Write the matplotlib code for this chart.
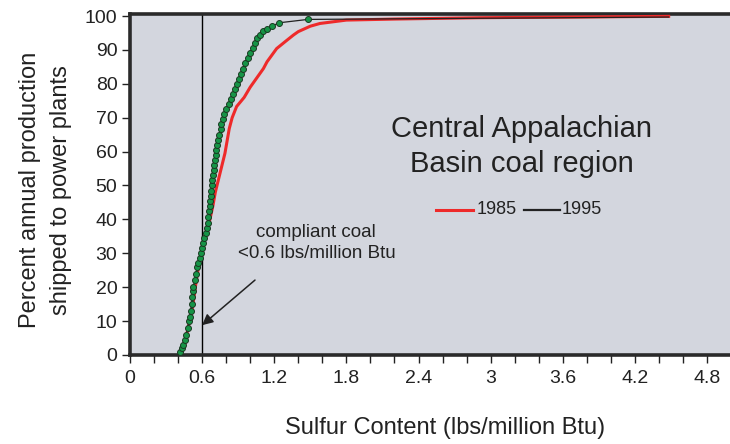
import numpy as np
import matplotlib
matplotlib.use("Agg")
import matplotlib.pyplot as plt
from matplotlib.ticker import MultipleLocator

plt.rcParams['font.family'] = ['Liberation Sans', 'DejaVu Sans']

# 1995 cumulative curve (green dots + black line)
x1995 = [0.42, 0.43, 0.44, 0.455, 0.468, 0.48, 0.49, 0.50, 0.505, 0.512,
         0.518, 0.524, 0.527, 0.537, 0.548, 0.56, 0.57, 0.58, 0.59, 0.60,
         0.61, 0.62, 0.632, 0.64, 0.645, 0.65, 0.658, 0.663, 0.667, 0.672,
         0.677, 0.682, 0.686, 0.69, 0.695, 0.70, 0.706, 0.712, 0.716, 0.724,
         0.732, 0.742, 0.755, 0.76, 0.77, 0.785, 0.80, 0.82, 0.838, 0.855,
         0.872, 0.89, 0.905, 0.925, 0.942, 0.96, 0.98, 1.0, 1.02, 1.04,
         1.06, 1.08, 1.11, 1.14, 1.18, 1.24, 1.48, 4.48]
y1995 = [1, 2, 3, 4.4, 6, 8, 10, 11.3, 13, 15,
         17, 19, 20, 22, 24, 26, 27, 28.5, 30, 31.5,
         33, 34.5, 36, 37.5, 39, 40.8, 42.5, 44, 45.5, 47,
         48.5, 50, 51.5, 53, 54.5, 56, 57.5, 59, 60.5, 62,
         63.5, 65, 66.8, 68, 69.5, 71, 72.5, 74, 75.5, 77,
         78.5, 80, 81.5, 83, 84.5, 86, 87.5, 89, 90.5, 92,
         93.5, 94.5, 95.5, 96.3, 97, 98, 99, 99.7]

# 1985 cumulative curve (red line)
x1985 = [0.43, 0.46, 0.49, 0.52, 0.54, 0.56, 0.59, 0.62, 0.645, 0.665,
         0.69, 0.71, 0.735, 0.79, 0.826, 0.85, 0.887, 0.95, 1.0, 1.08,
         1.11, 1.14, 1.22, 1.30, 1.36, 1.40, 1.50, 1.58, 1.80, 2.2,
         2.91, 4.48]
y1985 = [0.5, 4, 9, 14, 19, 24, 29, 34, 37.5, 40,
         44, 48, 51.6, 59.5, 66.8, 70, 73.3, 76, 79, 83,
         84.5, 86.5, 90.4, 92.7, 94.4, 95.4, 97, 97.8, 98.8, 99.1,
         99.5, 99.9]

compliant_limit = 0.6

fig = plt.figure(figsize=(7.3, 4.44), dpi=100)
ax = fig.add_axes([0.178, 0.2005, 0.822, 0.768])
ax.set_facecolor('#d3d6de')

ax.plot(x1985, y1985, color='#ee2a2a', linewidth=2.2, zorder=3)
ax.plot(x1995, y1995, color='#222222', linewidth=0.9, zorder=4)
ax.plot(x1995[:-1], y1995[:-1], linestyle='none', marker='o', markersize=4.3,
        markerfacecolor='#169447', markeredgecolor='#1b3a22', markeredgewidth=0.7,
        zorder=5)
ax.axvline(compliant_limit, color='black', linewidth=1.0, zorder=2)

ax.set_xlim(0, 4.99)
ax.set_ylim(0, 100.6)
ax.xaxis.set_major_locator(MultipleLocator(0.6))
ax.xaxis.set_minor_locator(MultipleLocator(0.2))
ax.yaxis.set_major_locator(MultipleLocator(10))
ax.xaxis.set_major_formatter(plt.FuncFormatter(lambda v, p: f"{v:g}"))
ax.tick_params(axis='both', which='both', direction='out', length=6,
               width=1.0, color='#222222', labelsize=14, labelcolor='#222222')
ax.tick_params(axis='x', which='both', pad=5)
ax.tick_params(axis='y', pad=3)

for side in ['left', 'bottom', 'top']:
    ax.spines[side].set_linewidth(2.6)
    ax.spines[side].set_color('#2a2a2a')
ax.spines['right'].set_visible(False)

fig.text(0.61, 0.036, 'Sulfur Content (lbs/million Btu)', fontsize=17,
         color='#222222', ha='center', va='center')
fig.text(0.062, 0.572, 'Percent annual production\nshipped to power plants',
         fontsize=17, color='#222222', ha='center', va='center', rotation=90,
         linespacing=1.5)

ax.text(3.26, 61.5, 'Central Appalachian\nBasin coal region', fontsize=21,
        ha='center', va='center', color='#222222', linespacing=1.35)

ax.text(1.55, 33, 'compliant coal\n<0.6 lbs/million Btu', fontsize=13.5,
        ha='center', va='center', color='#222222', linespacing=1.3)
ax.annotate('', xy=(0.6, 8.8), xytext=(1.04, 22.1),
            arrowprops=dict(arrowstyle='-|>', color='#222222', lw=1.1,
                            mutation_scale=16, shrinkA=0, shrinkB=0))

# legend drawn in data space
ax.plot([2.546, 2.853], [42.8, 42.8], color='#ee2a2a', linewidth=2.2)
ax.text(2.887, 42.8, '1985', fontsize=13, va='center', ha='left', color='#222222')
ax.plot([3.278, 3.577], [42.8, 42.8], color='#222222', linewidth=1.6)
ax.text(3.59, 42.8, '1995', fontsize=13, va='center', ha='left', color='#222222')

fig.savefig('out.png', dpi=100)
